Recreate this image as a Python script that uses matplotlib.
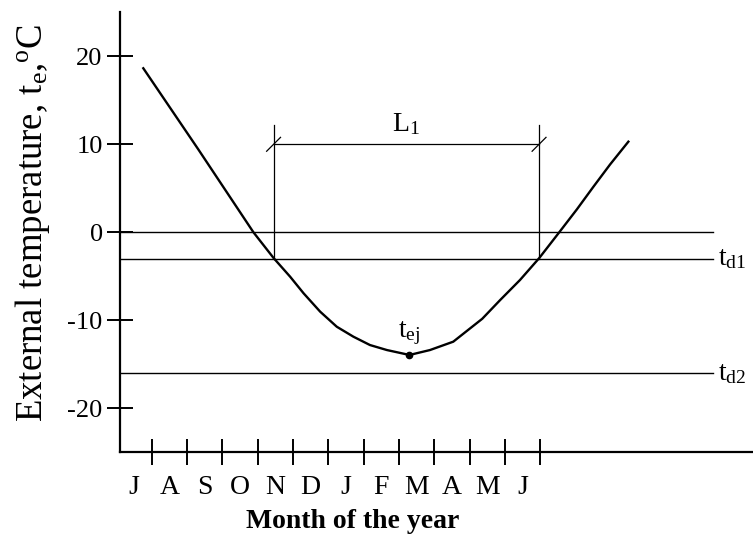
import numpy as np
import matplotlib
matplotlib.use("Agg")
import matplotlib.pyplot as plt
import matplotlib.transforms as mtransforms

plt.rcParams['font.family'] = ['Liberation Serif', 'DejaVu Serif']
plt.rcParams['mathtext.fontset'] = 'custom'
plt.rcParams['mathtext.rm'] = 'Liberation Serif'
plt.rcParams['mathtext.it'] = 'Liberation Serif'

# month axis: tick k at k (1..12), month names centred between ticks
months = ['J', 'A', 'S', 'O', 'N', 'D', 'J', 'F', 'M', 'A', 'M', 'J']
month_ticks = np.arange(1, 13)
month_pos = np.arange(0.5, 12, 1.0)

# external temperature curve
curve_x = [0.76, 2.31, 3.88, 4.45, 4.92, 5.30, 5.77, 6.24, 6.71, 7.18, 7.66,
           8.30, 8.88, 9.54, 10.36, 10.87, 11.43, 11.97, 12.52, 13.04, 13.51,
           13.98, 14.50]
curve_y = [18.64, 9.47, 0.0, -2.92, -5.05, -6.93, -9.02, -10.73, -11.86, -12.81,
           -13.38, -13.94, -13.38, -12.43, -9.83, -7.69, -5.42, -2.95, -0.11, 2.6,
           5.18, 7.7, 10.30]

t_ej_x, t_ej_y = 8.30, -13.94
t_d1 = -3
t_d2 = -16
L1_start, L1_end = 4.45, 11.97
L1_level = 10
L1_top = 12.2
line_end = 16.9

fig = plt.figure(figsize=(7.53, 5.38), dpi=100)
ax = fig.add_axes([120 / 753, (538 - 452.3) / 538, 633 / 753, 440 / 538])
ax.set_xlim(0.10, 18.03)
ax.set_ylim(-25, 25)

for s in ['top', 'right']:
    ax.spines[s].set_visible(False)
for s in ['left', 'bottom']:
    ax.spines[s].set_linewidth(1.6)

# reference lines
ax.plot([0.10, line_end], [0, 0], color='black', lw=1.0)
ax.plot([0.10, line_end], [t_d1, t_d1], color='black', lw=1.0)
ax.plot([0.10, line_end], [t_d2, t_d2], color='black', lw=1.0)

# curve
ax.plot(curve_x, curve_y, color='black', lw=1.7, solid_joinstyle='round')
ax.plot([t_ej_x], [t_ej_y], 'o', color='black', ms=4.5)

# dimension L1
ax.plot([L1_start, L1_start], [t_d1, L1_top], color='black', lw=0.9)
ax.plot([L1_end, L1_end], [t_d1, L1_top], color='black', lw=0.9)
ax.plot([L1_start, L1_end], [L1_level, L1_level], color='black', lw=0.9)
for xe in [L1_start, L1_end]:
    off1 = mtransforms.offset_copy(ax.transData, fig=fig, x=-5, y=-5, units='points')
    off2 = mtransforms.offset_copy(ax.transData, fig=fig, x=5, y=5, units='points')
    p1 = off1.transform((xe, L1_level))
    p2 = off2.transform((xe, L1_level))
    fig.add_artist(plt.Line2D([p1[0] / fig.bbox.width, p2[0] / fig.bbox.width],
                              [p1[1] / fig.bbox.height, p2[1] / fig.bbox.height],
                              color='black', lw=0.9))
ax.text((L1_start + L1_end) / 2, L1_level + 0.8, r'$\mathrm{L_1}$', fontsize=20,
        ha='center', va='bottom')

# labels on lines
ax.text(line_end + 0.15, t_d1, r'$\mathrm{t_{d1}}$', fontsize=20, ha='left', va='center')
ax.text(line_end + 0.15, t_d2, r'$\mathrm{t_{d2}}$', fontsize=20, ha='left', va='center')
ax.text(t_ej_x, t_ej_y + 0.9, r'$\mathrm{t_{ej}}$', fontsize=20, ha='center', va='bottom')

# ticks
ax.set_yticks([20, 10, 0, -10, -20])
ax.set_yticklabels(['20', '10', '0', '-10', '-20'], fontsize=19)
ax.tick_params(axis='y', direction='inout', length=19, width=1.4, pad=3)
ax.set_xticks(month_ticks)
ax.set_xticklabels([])
ax.tick_params(axis='x', which='major', direction='inout', length=19, width=1.4)
ax.set_xticks(month_pos, minor=True)
ax.set_xticklabels(months, minor=True, fontsize=20)
ax.tick_params(axis='x', which='minor', length=0, pad=16)

ax.set_xlabel('Month of the year', fontsize=20, fontweight='bold')
ax.xaxis.set_label_coords((353 - 120) / 633, -0.13)
ax.set_ylabel(r'External temperature, t$_\mathrm{e}$,$^\mathrm{o}$C', fontsize=26.5)
ax.yaxis.set_label_coords(-0.108, 0.521)

fig.savefig('out.png', dpi=100)
